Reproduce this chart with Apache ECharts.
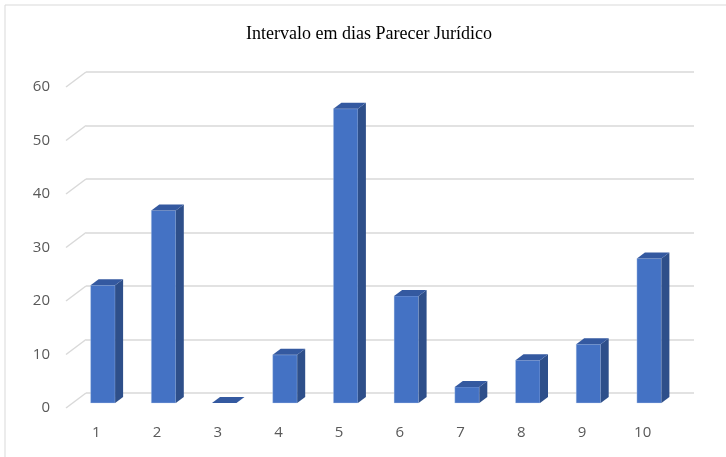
<!DOCTYPE html>
<html>
<head>
<meta charset="utf-8">
<script src="https://cdn.jsdelivr.net/npm/echarts@6/dist/echarts.min.js"></script>
<style>html,body{margin:0;padding:0;background:#fff;}#c{width:726px;height:457px;}</style>
</head>
<body>
<div id="c"></div>
<script>
const titleText = 'Intervalo em dias Parecer Jurídico';
const categories = ['1','2','3','4','5','6','7','8','9','10'];
const values = [22, 36, 0, 9, 55, 20, 3, 8, 11, 27];
const yTicks = [0, 10, 20, 30, 40, 50, 60];

const chart = echarts.init(document.getElementById('c'), null, {renderer: 'canvas'});

const DX = 20, DY = -15;          // floor depth offset (front -> back wall)
const FX = 6.5, FY = -5;          // bar front face offset from front plane
const BX = 8, BY = -6;            // bar depth
const BW = 24.5;                  // bar width

const option = {
  backgroundColor: '#fff',
  animation: false,
  graphic: [{
    type: 'rect', shape: {x: 5, y: 5, width: 740, height: 470},
    style: {fill: 'none', stroke: '#d9d9d9', lineWidth: 1}, z: -10
  }],
  title: {
    text: titleText, left: 241, top: 20,
    textStyle: {fontFamily: 'Liberation Serif', fontSize: 18, fontWeight: 'normal', color: '#000'}
  },
  grid: [
    {left: 66, right: 53, top: 87, bottom: 49},
    {left: 86, right: 32, top: 72, bottom: 64}
  ],
  xAxis: [
    {type: 'category', gridIndex: 0, data: categories,
     axisLine: {show: false}, axisTick: {show: false},
     axisLabel: {color: '#595959', fontSize: 15, fontFamily: 'Open Sans', margin: 17}},
    {type: 'category', gridIndex: 1, data: categories, show: false}
  ],
  yAxis: [
    {type: 'value', gridIndex: 0, min: 0, max: 60, interval: 10,
     axisLine: {show: false}, axisTick: {show: false}, splitLine: {show: false},
     axisLabel: {color: '#595959', fontSize: 15, fontFamily: 'Open Sans', margin: 16}},
    {type: 'value', gridIndex: 1, min: 0, max: 60, interval: 10,
     axisLine: {show: false}, axisTick: {show: false}, axisLabel: {show: false},
     splitLine: {show: true, lineStyle: {color: '#d9d9d9', width: 1.5}}}
  ],
  series: [
    {
      type: 'custom', xAxisIndex: 0, yAxisIndex: 0, z: 1,
      data: yTicks.map(v => [0, v]),
      renderItem: function (params, api) {
        const y = api.coord([0, api.value(1)])[1];
        const x = params.coordSys.x;
        return {type: 'line', shape: {x1: x, y1: y, x2: x + DX, y2: y + DY},
                style: {stroke: '#d9d9d9', lineWidth: 1.5}};
      }
    },
    {
      type: 'custom', xAxisIndex: 0, yAxisIndex: 0, z: 5,
      data: values.map((v, i) => [i, v]),
      renderItem: function (params, api) {
        const top = api.coord([api.value(0), api.value(1)]);
        const base = api.coord([api.value(0), 0]);
        const x0 = top[0] + FX - BW / 2, x1 = x0 + BW;
        const yt = top[1] + FY, yb = base[1] + FY;
        const children = [];
        if (yb - yt > 0.5) {
          children.push({type: 'rect', shape: {x: x0, y: yt, width: BW, height: yb - yt},
            style: {fill: '#4472C4', stroke: 'rgba(200,215,240,0.6)', lineWidth: 0.6}});
          children.push({type: 'polygon', shape: {points: [[x1, yt], [x1 + BX, yt + BY], [x1 + BX, yb + BY], [x1, yb]]},
            style: {fill: '#2E4F8A'}});
        }
        children.push({type: 'polygon', shape: {points: [[x0, yt], [x0 + BX, yt + BY], [x1 + BX, yt + BY], [x1, yt]]},
          style: {fill: '#3459A0'}});
        return {type: 'group', children: children};
      }
    }
  ]
};
chart.setOption(option);
</script>
</body>
</html>
